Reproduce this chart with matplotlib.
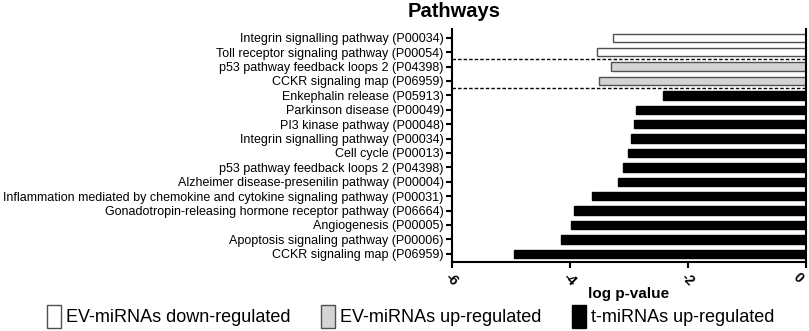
import numpy as np
import matplotlib
matplotlib.use("Agg")
import matplotlib.pyplot as plt
from matplotlib.patches import Patch

plt.rcParams['font.family'] = ['Liberation Sans', 'DejaVu Sans']

# pathways, listed from top to bottom as in the figure
pathways = [
    "Integrin signalling pathway (P00034)",
    "Toll receptor signaling pathway (P00054)",
    "p53 pathway feedback loops 2 (P04398)",
    "CCKR signaling map (P06959)",
    "Enkephalin release (P05913)",
    "Parkinson disease (P00049)",
    "PI3 kinase pathway (P00048)",
    "Integrin signalling pathway (P00034)",
    "Cell cycle (P00013)",
    "p53 pathway feedback loops 2 (P04398)",
    "Alzheimer disease-presenilin pathway (P00004)",
    "Inflammation mediated by chemokine and cytokine signaling pathway (P00031)",
    "Gonadotropin-releasing hormone receptor pathway (P06664)",
    "Angiogenesis (P00005)",
    "Apoptosis signaling pathway (P00006)",
    "CCKR signaling map (P06959)",
]
log_p = [-3.27, -3.54, -3.31, -3.51, -2.43, -2.88, -2.92, -2.97, -3.01,
         -3.10, -3.19, -3.63, -3.93, -3.98, -4.15, -4.95]
# 0 = EV down, 1 = EV up, 2 = t-miRNAs up
group = [0, 0, 1, 1, 2, 2, 2, 2, 2, 2, 2, 2, 2, 2, 2, 2]
group_names = ["EV-miRNAs down-regulated", "EV-miRNAs up-regulated", "t-miRNAs up-regulated"]
group_fill = ["white", "#d4d4d4", "black"]
group_edge = ["#505050", "#505050", "black"]

fig = plt.figure(figsize=(8.09, 3.31), dpi=100)
ax = fig.add_axes([0.5587, 0.2094, 0.4376, 0.7026])

n = len(pathways)
ypos = np.arange(n)[::-1]
for y, v, g in zip(ypos, log_p, group):
    ax.barh(y, v, height=0.58, color=group_fill[g], edgecolor=group_edge[g], linewidth=1)

# dashed separators between the groups
for y in [n - 2.5, n - 4.5]:
    ax.axhline(y, color="black", linestyle=(0, (2.5, 1.5)), linewidth=1)

ax.set_xlim(-6, 0)
ax.set_ylim(-0.55, n - 0.4)
ax.set_yticks(ypos)
ax.set_yticklabels(pathways, fontsize=9)
ax.set_xticks([-6, -4, -2, 0])
xt = ax.set_xticklabels(["-6", "-4", "-2", "0"], rotation=-45, fontsize=10,
                        fontweight="bold", ha="center", va="top")
# keep the last label inside the figure
xt[-1].set_horizontalalignment("right")
ax.set_xlabel("log p-value", fontsize=11, fontweight="bold", labelpad=-1)

ax.spines["top"].set_visible(False)
for s in ["left", "bottom", "right"]:
    ax.spines[s].set_linewidth(1.5)
ax.tick_params(axis="both", width=1.5, length=4, pad=2)

fig.text(0.561, 0.965, "Pathways", fontsize=14.5, fontweight="bold", ha="center", va="center")

handles = [Patch(facecolor=group_fill[i], edgecolor=group_edge[i], linewidth=1, label=group_names[i])
           for i in range(3)]
fig.legend(handles=handles, loc="center", bbox_to_anchor=(0.508, 0.045), ncol=3,
           frameon=False, fontsize=13, handlelength=0.75, handleheight=1.6,
           handletextpad=0.3, columnspacing=1.7, borderaxespad=0)

fig.savefig("out.png", dpi=100)
